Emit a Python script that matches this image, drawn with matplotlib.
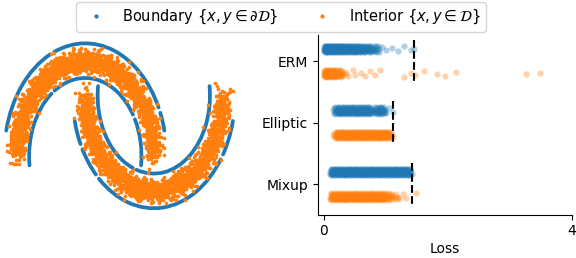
import numpy as np
import matplotlib.pyplot as plt
from matplotlib.patches import Arc
from matplotlib.lines import Line2D

plt.rcParams['font.family'] = 'DejaVu Sans'
plt.rcParams['font.size'] = 10

blue = '#1f77b4'
orange = '#ff7f0e'

# ---------------- two moons (left) ----------------
moon_cx = [0.0, 1.0]
moon_cy = [0.0, 0.634]
moon_flip = [1, -1]              # upper moon bulges up, lower moon bulges down
boundary_radius = [1.185, 0.82]  # outer / inner boundary
interior_radius = 1.0
interior_spread = 0.06
interior_count = 2000

# boundary pieces (moon, radius index, start deg, end deg) - gaps
boundary_arcs = [
    (0, 0, 13, 22.5), (0, 0, 25.5, 112.5), (0, 0, 115.5, 167),
    (0, 1, -7, 28), (0, 1, 32, 123), (0, 1, 127, 187),
    (1, 1, 173, 248), (1, 1, 252, 367),
    (1, 0, 193, 205.5), (1, 0, 208.5, 224.5), (1, 0, 227.5, 325.5), (1, 0, 328.5, 347),
]

# ---------------- strip plot (right) ----------------
methods = ['ERM', 'Elliptic', 'Mixup']
bin_width = 0.05   # counts per 0.05-wide loss bin, from 0.0 to 1.5
counts_boundary = [
    [20, 20, 20, 20, 20, 18, 18, 18, 16, 16, 15, 15, 12, 10, 9, 8, 6, 5,
     0, 0, 0, 0, 0, 0, 0, 0, 0, 0, 0, 0],
    [0, 0, 0, 8, 14, 14, 14, 14, 14, 14, 14, 14, 14, 14, 14, 6, 6, 12,
     12, 8, 0, 0, 0, 0, 0, 0, 0, 0, 0, 0],
    [0, 0, 14, 14, 14, 14, 14, 14, 14, 14, 14, 14, 14, 14, 14, 14, 14, 14,
     14, 14, 14, 14, 14, 14, 14, 14, 14, 14, 0, 0],
]
counts_interior = [
    [20, 20, 18, 16, 12, 10, 2, 2, 0, 0, 0, 0, 0, 0, 0, 0, 0, 0,
     0, 0, 0, 0, 0, 0, 0, 0, 0, 0, 0, 0],
    [0, 0, 0, 6, 14, 14, 14, 14, 14, 14, 14, 14, 14, 14, 14, 14, 14, 14,
     14, 14, 14, 8, 0, 0, 0, 0, 0, 0, 0, 0],
    [0, 0, 14, 14, 14, 14, 14, 14, 14, 14, 14, 14, 14, 14, 14, 14, 14, 14,
     14, 14, 8, 6, 4, 3, 0, 0, 0, 0, 0, 0],
]
# single (pale) points outside the dense part
outliers_boundary = [
    [0.93, 1.01, 1.10, 1.20, 1.30, 1.40, 1.46],
    [1.05, 1.12],
    [1.42],
]
outliers_interior = [
    [0.47, 0.50, 0.60, 0.67, 0.74, 0.82, 0.90, 1.29, 1.41, 1.47, 1.61, 1.82, 1.96, 2.14,
     3.27, 3.49],
    [1.12],
    [1.22, 1.27, 1.32, 1.49],
]


def halton(n, base, skip=1):
    out = np.zeros(n)
    for k in range(n):
        i, f, r = k + skip, 1.0, 0.0
        while i > 0:
            f /= base
            r += f * (i % base)
            i //= base
        out[k] = r
    return out


def expand(counts, extra):
    # spread each bin's points evenly inside the bin, then add the single points
    xs = []
    for b, c in enumerate(counts):
        for k in range(c):
            xs.append(b * bin_width + (k + 0.5) / c * bin_width)
    return np.array(xs + list(extra))


fig = plt.figure(figsize=(5.76, 2.58), dpi=100)

# left axes: pixel frame x 0..250, y 30..220
ax1 = fig.add_axes([0.0, 1 - 220 / 258, 250 / 576, 190 / 258])
ax1.set_xlim(-85.3 / 68.5, (250 - 85.3) / 68.5)
ax1.set_ylim((155.9 - 220) / 95, (155.9 - 30) / 95)
ax1.axis('off')

for m, r, a0, a1 in boundary_arcs:
    R = boundary_radius[r]
    ax1.add_patch(Arc((moon_cx[m], moon_cy[m]), 2 * R, 2 * R, theta1=a0, theta2=a1,
                      color=blue, lw=2.7, capstyle='round', zorder=1))

for m in range(2):
    skip = 1 + m * interior_count
    t = np.pi * halton(interior_count, 2, skip)
    u1 = halton(interior_count, 3, skip)
    u2 = halton(interior_count, 5, skip)
    u3 = halton(interior_count, 7, skip)
    u4 = halton(interior_count, 11, skip)
    nx = np.sqrt(-2 * np.log(1 - u1 * 0.999)) * np.cos(2 * np.pi * u2)
    ny = np.sqrt(-2 * np.log(1 - u3 * 0.999)) * np.sin(2 * np.pi * u4)
    x = moon_cx[m] + interior_radius * np.cos(t) * moon_flip[m] + interior_spread * nx
    y = moon_cy[m] + interior_radius * np.sin(t) * moon_flip[m] + interior_spread * ny
    ax1.scatter(x, y, s=7, color=orange, linewidths=0, zorder=2)

# right axes
ax2 = fig.add_axes([317.7 / 576, 43 / 258, 254 / 576, 180.3 / 258])
jitter = 1.15 * np.array([0.0, 0.035, -0.03, 0.018, -0.045, 0.045, -0.012, 0.026, -0.038,
                          0.008, 0.04, -0.022, 0.012, -0.006, 0.03, -0.042, 0.022])
for i in range(len(methods)):
    for cnt, ext, off, col in ((counts_boundary[i], outliers_boundary[i], -0.2, blue),
                               (counts_interior[i], outliers_interior[i], 0.2, orange)):
        v = expand(cnt, ext)
        ax2.scatter(v, i + off + np.resize(jitter, len(v)), s=20, color=col,
                    alpha=0.35, linewidths=0, zorder=2)
    m = expand(counts_boundary[i], outliers_boundary[i]).max()
    ax2.plot([m, m], [i - 0.35, i + 0.35], color='black', ls='--', lw=1.5, zorder=3)

ax2.set_xlim(-0.1, 4)
ax2.set_ylim(2.5, -0.43)
ax2.set_xticks([0, 4])
ax2.set_yticks(range(len(methods)))
ax2.set_yticklabels(methods)
ax2.tick_params(axis='x', pad=2.8)
ax2.set_xlabel('Loss', labelpad=3)
ax2.spines['top'].set_visible(False)
ax2.spines['right'].set_visible(False)

handles = [
    Line2D([], [], ls='', marker='o', ms=2, color=blue),
    Line2D([], [], ls='', marker='o', ms=2, color=orange),
]
labels = [r'Boundary $\{x, y \in \partial\mathcal{D}\}$',
          r'Interior $\{x, y \in \mathcal{D}\}$']
fig.legend(handles, labels, loc='upper center', bbox_to_anchor=(281 / 576, 1.0),
           ncol=2, borderaxespad=0.15, fontsize=10.5)

fig.savefig('out.png', dpi=100)
